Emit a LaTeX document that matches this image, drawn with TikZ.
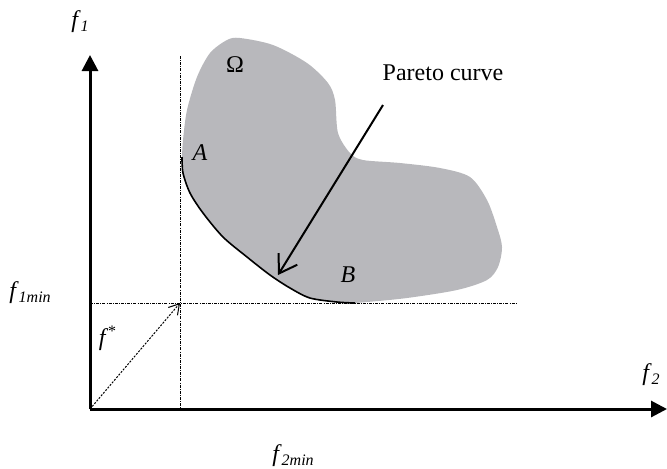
\documentclass[tikz,border=0pt]{standalone}
\usepackage{fontspec}
\setmainfont{Liberation Serif}
\usetikzlibrary{arrows.meta}

\newcommand{\lowidx}[1]{\raisebox{-0.35ex}{\footnotesize\itshape #1}}

\begin{document}
\begin{tikzpicture}[x=0.5pt, y=-0.5pt, font=\fontsize{12}{14}\selectfont]

\useasboundingbox (0,0) rectangle (667,468);

\definecolor{regionGray}{RGB}{184,184,188}

% Define coordinates
\coordinate (origin) at (90,409);
\coordinate (topTip) at (90,55);
\coordinate (rightTip) at (667,409);
\coordinate (minTop) at (180,56);
\coordinate (minBottom) at (180,409);
\coordinate (minEnd) at (517,303);
\coordinate (ideal) at (180,303);
\coordinate (pStart) at (383,105);
\coordinate (pEnd) at (278,275);

% Feasible region
\fill[regionGray] plot[smooth] coordinates {(355,303) (337,302) (310,298) (290,288) (270,275) (247,257) (223,237) (203,213) (190,193) (183,173) (182,157)}
  -- plot[smooth] coordinates {(182,157) (183,140) (187,110) (197,77) (210,53) (227,40) (240,38) (273,45) (307,63) (328,83) (335,100) (338,133) (350,153) (363,160) (400,163) (440,168) (470,177) (487,200) (497,227) (502,247) (498,267) (487,280) (457,290) (407,298) (367,302) (355,303)} -- cycle;

% Pareto front
\draw[line width=0.8pt] plot[smooth] coordinates {(182,157) (183,173) (190,193) (203,213) (223,237) (247,257) (270,275) (290,288) (310,298) (337,302) (355,303)};

% Minimum lines
\draw[line width=0.5pt, dash pattern=on 1.5pt off 0.6pt on 0.4pt off 0.6pt] (minTop) -- (minBottom);
\draw[line width=0.5pt, dash pattern=on 1.5pt off 0.6pt on 0.4pt off 0.6pt] (origin |- ideal) -- (minEnd);

% Axes
\draw[line width=1.5pt, -{Triangle[length=8pt, width=8pt]}] (origin) -- (topTip);
\draw[line width=1.5pt, -{Triangle[length=8pt, width=8pt]}] (origin) -- (rightTip);

% Ideal point
\draw[line width=0.5pt, dash pattern=on 1pt off 0.7pt, -{Straight Barb[length=5pt, width=6pt]}] (origin) -- (ideal);

% Pareto arrow
\draw[line width=1pt, -{Straight Barb[length=8.5pt, width=11pt]}] (pStart) -- (pEnd);

% Labels
\node (omega) at (235,65) {Ω};
\node (a) at (200,153) {\textit{A}};
\node (b) at (348,275) {\textit{B}};
\node (pareto) at (443,73) {Pareto curve};
\node (fOne) at (80,22) {\textit{f}\lowidx{1}};
\node (fTwo) at (651,375) {\textit{f}\lowidx{2}};
\node (fOneMin) at (30,293) {\textit{f}\lowidx{1min}};
\node (fTwoMin) at (293,456) {\textit{f}\lowidx{2min}};
\node (fStar) at (108,338) {\textit{f}\textsuperscript{*}};

\end{tikzpicture}
\end{document}
